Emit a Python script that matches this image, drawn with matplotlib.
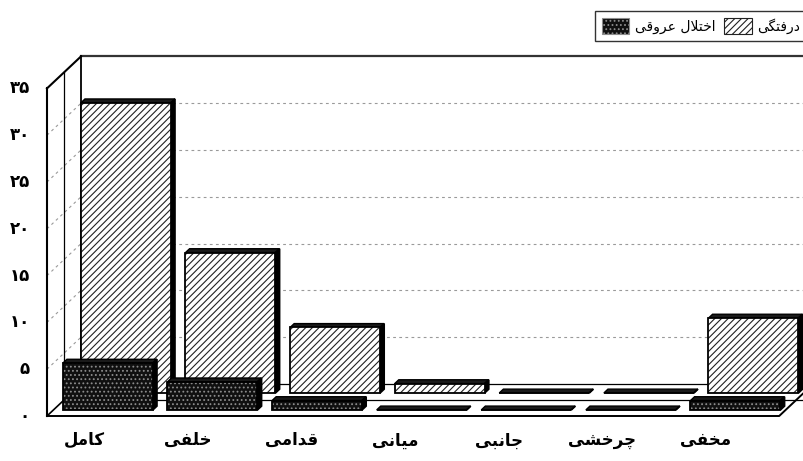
import matplotlib
matplotlib.use("Agg")
import matplotlib.pyplot as plt
from matplotlib.patches import Polygon, Patch

# ---------------- data ----------------
categories = ["کامل", "خلفی", "قدامی", "میانی", "جانبی", "چرخشی", "مخفی"]
dislocation = [31, 15, 7, 1, 0, 0, 8]        # درفتگی
vascular = [5, 3, 1, 0, 0, 0, 1]             # اختلال عروقی
series_names = ["اختلال عروقی", "درفتگی"]
yticks = [0, 5, 10, 15, 20, 25, 30, 35]
ytick_labels = ["۰", "۵", "۱۰", "۱۵", "۲۰", "۲۵", "۳۰", "۳۵"]

# ------------- simple Arabic-script shaping for display -------------
FORMS = {
    'ا': ('\uFE8D', '\uFE8E', None, None),
    'ب': ('\uFE8F', '\uFE90', '\uFE91', '\uFE92'),
    'ت': ('\uFE95', '\uFE96', '\uFE97', '\uFE98'),
    'ج': ('\uFE9D', '\uFE9E', '\uFE9F', '\uFEA0'),
    'خ': ('\uFEA5', '\uFEA6', '\uFEA7', '\uFEA8'),
    'د': ('\uFEA9', '\uFEAA', None, None),
    'ر': ('\uFEAD', '\uFEAE', None, None),
    'ش': ('\uFEB5', '\uFEB6', '\uFEB7', '\uFEB8'),
    'ع': ('\uFEC9', '\uFECA', '\uFECB', '\uFECC'),
    'ف': ('\uFED1', '\uFED2', '\uFED3', '\uFED4'),
    'ق': ('\uFED5', '\uFED6', '\uFED7', '\uFED8'),
    'ل': ('\uFEDD', '\uFEDE', '\uFEDF', '\uFEE0'),
    'م': ('\uFEE1', '\uFEE2', '\uFEE3', '\uFEE4'),
    'ن': ('\uFEE5', '\uFEE6', '\uFEE7', '\uFEE8'),
    'و': ('\uFEED', '\uFEEE', None, None),
    'ی': ('\uFBFC', '\uFBFD', '\uFBFE', '\uFBFF'),
    'ک': ('\uFB8E', '\uFB8F', '\uFB90', '\uFB91'),
    'گ': ('\uFB92', '\uFB93', '\uFB94', '\uFB95'),
    'چ': ('\uFB7A', '\uFB7B', '\uFB7C', '\uFB7D'),
}


def shape(text):
    chars = list(text)
    n = len(chars)
    res = []
    i = 0
    while i < n:
        c = chars[i]
        if c not in FORMS:
            res.append(c)
            i += 1
            continue
        prev = chars[i - 1] if i > 0 else None
        nxt = chars[i + 1] if i < n - 1 else None
        cp = prev in FORMS and FORMS[prev][2] is not None
        if c == 'ل' and nxt == 'ا':
            res.append('\uFEFC' if cp else '\uFEFB')
            i += 2
            continue
        cn = nxt in FORMS and FORMS[c][2] is not None
        iso, fin, ini, med = FORMS[c]
        if cp and cn:
            res.append(med)
        elif cp:
            res.append(fin)
        elif cn:
            res.append(ini)
        else:
            res.append(iso)
        i += 1
    return ''.join(reversed(res))


# ---------------- geometry (oblique 3-D look) ----------------
W, H = 804, 461
PX_X = 104.6      # pixels per category slot
PX_Y = 9.36       # pixels per value unit
X0_PX, Y0_PX = 47, 416   # front-left floor corner (pixels from top-left)
DX = 34 / PX_X    # full depth offset, x (data units)
DY = 32 / PX_Y    # full depth offset, y (data units)
GAP = 0.09
BW = 0.86
BD = 0.12         # bar depth fraction
D_FRONT = 0.19    # depth of front row
D_BACK = 0.72     # depth of back row
VMAX = 35
N = len(categories)

plt.rcParams['font.family'] = ['DejaVu Sans']
plt.rcParams['hatch.linewidth'] = 0.8

fig = plt.figure(figsize=(W / 100, H / 100), dpi=100)
ax = fig.add_axes([0, 0, 1, 1])
ax.set_xlim(-X0_PX / PX_X, (W - X0_PX) / PX_X)
ax.set_ylim(-(H - Y0_PX) / PX_Y, Y0_PX / PX_Y)
ax.axis('off')

BIG = N + 2  # back wall extends past the right edge
GRID_C = '#9a9a9a'

# back wall
ax.add_patch(Polygon([(DX, DY), (BIG, DY), (BIG, DY + VMAX), (DX, DY + VMAX)],
                     closed=True, facecolor='white', edgecolor='none', zorder=0))
for v in yticks[1:-1]:
    ax.plot([DX, BIG], [DY + v, DY + v], color=GRID_C, lw=0.8,
            ls=(0, (2.5, 3)), zorder=1)
    # side wall grid
    ax.plot([0, DX], [v, DY + v], color=GRID_C, lw=0.8, ls=(0, (2.5, 3)), zorder=1)
ax.plot([DX, BIG], [DY + VMAX, DY + VMAX], color='#333333', lw=1.6, zorder=2)
ax.plot([DX, DX], [DY, DY + VMAX], color='black', lw=1.3, zorder=2)
ax.plot([DX / 2, DX / 2], [DY / 2, DY / 2 + VMAX], color='black', lw=0.9, zorder=2)
ax.plot([0, 0], [0, VMAX], color='black', lw=1.5, zorder=2)
ax.plot([0, DX], [VMAX, DY + VMAX], color='black', lw=1.5, zorder=2)

# floor
ax.add_patch(Polygon([(0, 0), (N, 0), (N + DX, DY), (DX, DY)], closed=True,
                     facecolor='white', edgecolor='none', zorder=1))
ax.plot([DX, BIG], [DY, DY], color='black', lw=0.9, zorder=2)
ax.plot([DX / 2, BIG], [DY / 2, DY / 2], color='black', lw=0.9, zorder=2)
ax.plot([0, N, N + DX], [0, 0, DY], color='black', lw=1.4, zorder=6)
ax.plot([0, DX], [0, DY], color='black', lw=1.2, zorder=2)


def draw_series(values, d0, face, hatch, hcolor, z):
    xs = [i + GAP + d0 * DX for i in range(len(values))]
    base = d0 * DY
    ddx, ddy = BD * DX, BD * DY
    # front faces through ax.bar
    ax.bar(xs, values, width=BW, bottom=base, align='edge', color=face,
           edgecolor=hcolor, hatch=hatch, linewidth=0, zorder=z)
    ax.bar(xs, values, width=BW, bottom=base, align='edge', fill=False,
           edgecolor='black', linewidth=1.3, zorder=z + 0.2)
    for x, v in zip(xs, values):
        top = [(x, base + v), (x + BW, base + v), (x + BW + ddx, base + v + ddy),
               (x + ddx, base + v + ddy)]
        side = [(x + BW, base), (x + BW + ddx, base + ddy),
                (x + BW + ddx, base + v + ddy), (x + BW, base + v)]
        ax.add_patch(Polygon(top, closed=True, facecolor='#1a1a1a',
                             edgecolor='black', lw=1.0, zorder=z - 0.1))
        ax.add_patch(Polygon(side, closed=True, facecolor='black',
                             edgecolor='black', lw=1.3, zorder=z - 0.1))


draw_series(dislocation, D_BACK, 'white', '/////', '#222222', 4)
draw_series(vascular, D_FRONT, '#101010', '....', '#8c8c8c', 8)

# y tick labels
for v, lab in zip(yticks, ytick_labels):
    ax.text(-0.165, v, lab, ha='right', va='center', fontsize=12,
            fontweight='bold', color='black')

# category labels
for i, c in enumerate(categories):
    ax.text(i + 0.36 - 0.01 * i, -2.6, shape(c), ha='center', va='center',
            fontsize=12, fontweight='bold', color='black')

# legend (frame runs slightly past the right edge, as in the reference)
handles = [Patch(facecolor='#101010', edgecolor='#8c8c8c', hatch='....', lw=0.8),
           Patch(facecolor='white', edgecolor='#222222', hatch='/////', lw=0.8)]
leg = fig.legend(handles, [shape(s) for s in series_names], ncol=2,
                 loc='upper right', bbox_to_anchor=(1 + 3 / W, 1 - 11 / H),
                 frameon=True, fancybox=False, edgecolor='black', fontsize=10,
                 handlelength=2.0, handleheight=1.4, handletextpad=0.4,
                 columnspacing=0.6, borderpad=0.5, borderaxespad=0)
leg.get_frame().set_linewidth(1.0)

fig.savefig('out.png', dpi=100)
